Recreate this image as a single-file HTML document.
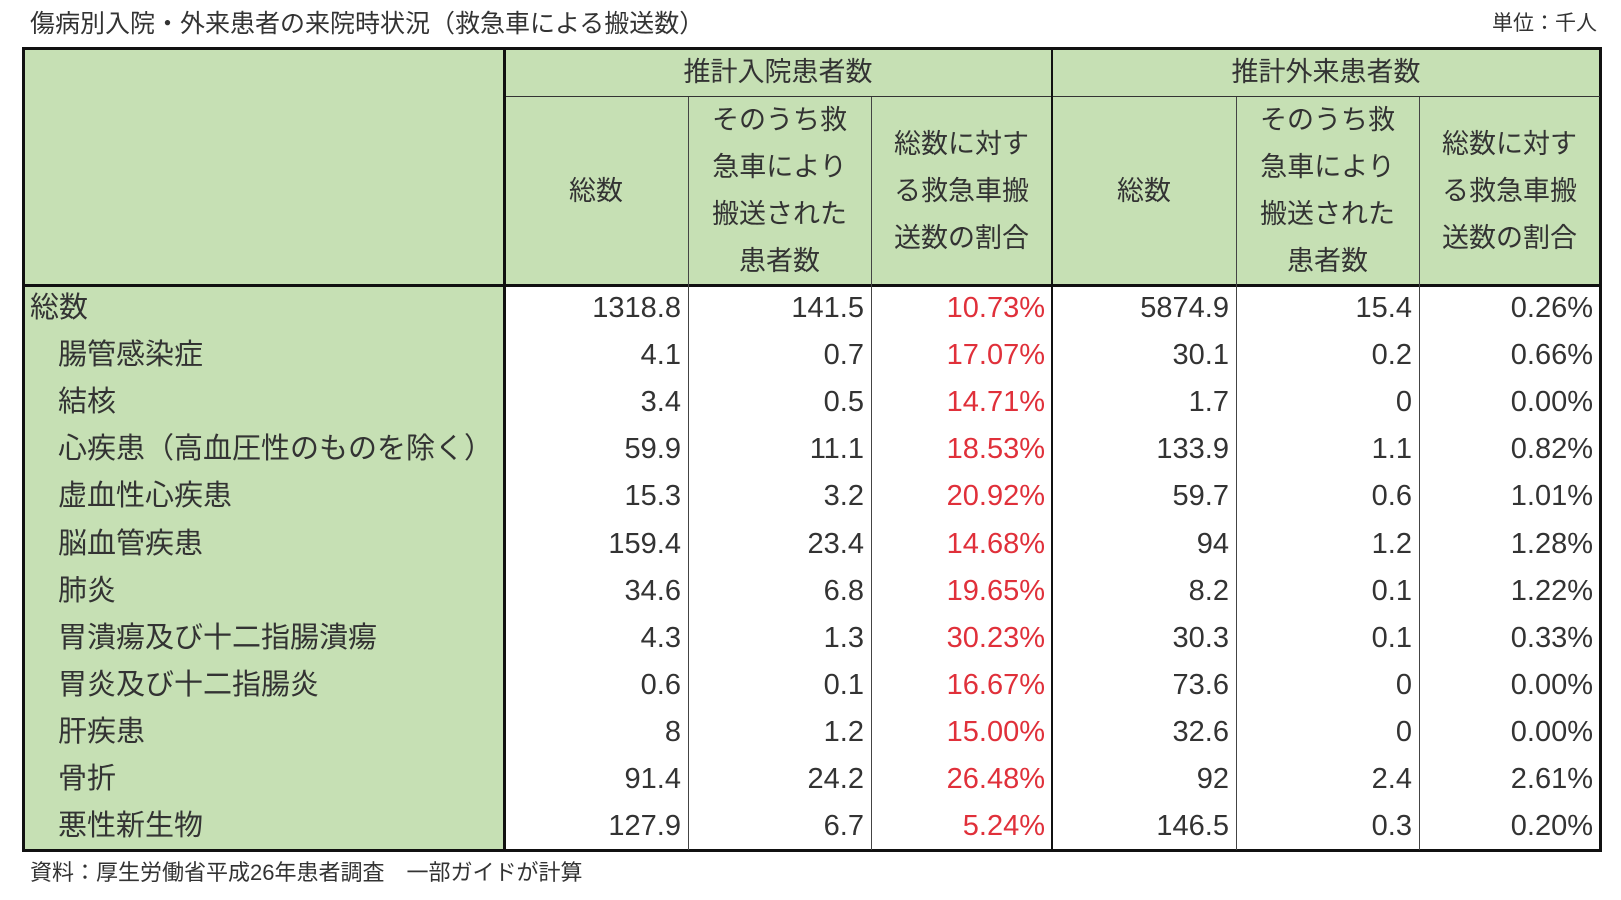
<!DOCTYPE html>
<html><head><meta charset="utf-8"><style>
body{margin:0;width:1621px;height:900px;background:#fff;position:relative;overflow:hidden;font-family:"Liberation Sans","Noto Sans CJK JP",sans-serif;color:#333}
.a{position:absolute;box-sizing:border-box}
.g{background:#c6e0b4}
.h{display:flex;align-items:center;justify-content:center;text-align:center;font-size:27px;line-height:47px}
.c{font-size:29px;line-height:47px;white-space:nowrap}
.r{text-align:right;padding-right:7px}
.red{color:#e0303a}
</style></head><body>
<div class="a" style="left:30px;top:6px;font-size:25px;line-height:36px">傷病別入院・外来患者の来院時状況（救急車による搬送数）</div>
<div class="a" style="right:24px;top:8px;font-size:21px;line-height:32px">単位：千人</div>
<div id="tbl"></div>
<div class="a" style="left:30px;top:857px;font-size:22px;line-height:32px">資料：厚生労働省平成26年患者調査　一部ガイドが計算</div>
<script>
const labels=["総数","腸管感染症","結核","心疾患（高血圧性のものを除く）","虚血性心疾患","脳血管疾患","肺炎","胃潰瘍及び十二指腸潰瘍","胃炎及び十二指腸炎","肝疾患","骨折","悪性新生物"];
const inTotal=["1318.8","4.1","3.4","59.9","15.3","159.4","34.6","4.3","0.6","8","91.4","127.9"];
const inAmb=["141.5","0.7","0.5","11.1","3.2","23.4","6.8","1.3","0.1","1.2","24.2","6.7"];
const inPct=["10.73%","17.07%","14.71%","18.53%","20.92%","14.68%","19.65%","30.23%","16.67%","15.00%","26.48%","5.24%"];
const outTotal=["5874.9","30.1","1.7","133.9","59.7","94","8.2","30.3","73.6","32.6","92","146.5"];
const outAmb=["15.4","0.2","0","1.1","0.6","1.2","0.1","0.1","0","0","2.4","0.3"];
const outPct=["0.26%","0.66%","0.00%","0.82%","1.01%","1.28%","1.22%","0.33%","0.00%","0.00%","2.61%","0.20%"];
const colX=[23,504,688,871,1052,1236,1419,1600];
const top0=48,h1=97,hB=285,rowH=47.1;
const body=document.body;
function box(x,y,w,h,cls,html,name,style){
  const d=document.createElement('div');
  d.className='a '+cls;
  d.style.left=x+'px';d.style.top=y+'px';d.style.width=w+'px';d.style.height=h+'px';
  if(style)d.style.cssText+=style;
  d.innerHTML=html;
  
  
  body.appendChild(d);return d;
}
// header backgrounds
box(colX[0],top0,colX[7]-colX[0],hB-top0,'g','','header-background');
box(colX[0],hB,colX[1]-colX[0],850-hB,'g','','label-column-background');
box(colX[1],top0,colX[4]-colX[1],h1-top0,'h','推計入院患者数','inpatient-group-header');
box(colX[4],top0,colX[7]-colX[4],h1-top0,'h','推計外来患者数','outpatient-group-header');
const sub=['総数','そのうち救<br>急車により<br>搬送された<br>患者数','総数に対す<br>る救急車搬<br>送数の割合'];
const subNames=['total-header','ambulance-header','ratio-header'];
for(let i=0;i<6;i++){
  box(colX[i+1],h1,colX[i+2]-colX[i+1],hB-h1,'h','<div>'+sub[i%3]+'</div>',subNames[i%3]+(i<3?'-inpatient':'-outpatient'));
}
const cols=[inTotal,inAmb,inPct,outTotal,outAmb,outPct];
for(let r=0;r<labels.length;r++){
  const y=hB+r*rowH;
  box(r==0?30:58,y,460,rowH,'c',labels[r],'row-label');
  for(let c=0;c<6;c++){
    box(colX[c+1],y,colX[c+2]-colX[c+1],rowH,'c r'+(c==2?' red':''),cols[c][r],'cell-value');
  }
}
// lines
function line(x,y,w,h,name,col){const d=box(x,y,w,h,'','',name);d.style.background=col||'#111';}
line(colX[0]-1,top0-1,colX[7]-colX[0]+2,3,'border-top');
line(colX[0]-1,849,colX[7]-colX[0]+2,3,'border-bottom');
line(colX[0]-1,top0-1,3,850-top0+3,'border-left');
line(colX[7]-1,top0-1,3,850-top0+3,'border-right');
line(colX[0],hB-1,colX[7]-colX[0],3,'header-bottom-border');
line(colX[1],h1-1,colX[7]-colX[1],1,'group-header-border','#333');
line(colX[1]-1,top0,3,850-top0,'label-column-border');
line(colX[4]-1,top0,2,850-top0,'group-divider');
[2,3,5,6].forEach(i=>line(colX[i],h1,1,850-h1,'column-divider','#444'));
</script>
</body></html>
